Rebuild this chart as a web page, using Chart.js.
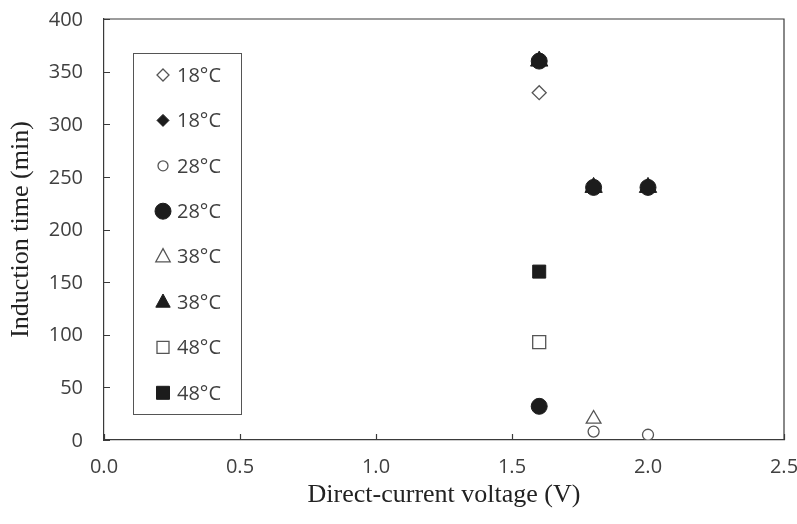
<!DOCTYPE html>
<html>
<head>
<meta charset="utf-8">
<style>
  html, body { margin: 0; padding: 0; background: #fff; }
</style>
<script src="https://cdn.jsdelivr.net/npm/chart.js@4.4.1/dist/chart.umd.min.js"></script>
</head>
<body>
<canvas id="chart" width="797" height="524"></canvas>
<script>
// values: voltage (V) vs induction time (min)
const legendLabels = ['18°C', '18°C', '28°C', '28°C', '38°C', '38°C', '48°C', '48°C'];
const open18 = [{ x: 1.6, y: 330 }];
const filled18 = [{ x: 1.6, y: 360 }, { x: 1.8, y: 240 }, { x: 2.0, y: 240 }];
const open28 = [{ x: 1.8, y: 8 }, { x: 2.0, y: 5 }];
const filled28 = [{ x: 1.6, y: 360 }, { x: 1.8, y: 240 }, { x: 2.0, y: 240 }, { x: 1.6, y: 32 }];
const open38 = [{ x: 1.8, y: 20 }];
const filled38 = [{ x: 1.6, y: 360 }, { x: 1.8, y: 240 }, { x: 2.0, y: 240 }];
const open48 = [{ x: 1.6, y: 93 }];
const filled48 = [{ x: 1.6, y: 160 }];
const xTicks = [0, 0.5, 1.0, 1.5, 2.0, 2.5];
const yTicks = [0, 50, 100, 150, 200, 250, 300, 350, 400];

const ink = '#1c1c1c';
const hollow = '#555';
const axisColor = '#3a3a3a';
const textColor = '#404040';
const sans = '"Open Sans", "Noto Sans", sans-serif';
const serif = '"Liberation Serif", "DejaVu Serif", serif';

function series(data, style, radius, filled, order) {
  return {
    data,
    pointStyle: style,
    pointRadius: radius,
    pointBackgroundColor: filled ? ink : '#fff',
    pointBorderColor: filled ? ink : hollow,
    pointBorderWidth: filled ? 1 : 1.3,
    showLine: false,
    order
  };
}

// legend box inside the plot, markers drawn by hand
const legendBox = {
  id: 'legendBox',
  afterDraw(chart) {
    const { ctx } = chart;
    const sizes = [6, 6, 5, 8, 8, 8, 6, 6.5];
    ctx.save();
    ctx.strokeStyle = '#555';
    ctx.lineWidth = 1;
    ctx.strokeRect(133.5, 53.5, 108, 361);
    chart.data.datasets.forEach((ds, i) => {
      const cx = 163;
      const cy = 75 + i * 45.4;
      const r = sizes[i];
      ctx.fillStyle = ds.pointBackgroundColor;
      ctx.strokeStyle = ds.pointBorderColor;
      ctx.lineWidth = ds.pointBorderWidth;
      ctx.beginPath();
      if (ds.pointStyle === 'circle') {
        ctx.arc(cx, cy, r, 0, Math.PI * 2);
      } else if (ds.pointStyle === 'rectRot') {
        ctx.moveTo(cx, cy - r); ctx.lineTo(cx + r, cy); ctx.lineTo(cx, cy + r); ctx.lineTo(cx - r, cy);
        ctx.closePath();
      } else if (ds.pointStyle === 'triangle') {
        ctx.moveTo(cx, cy - r); ctx.lineTo(cx + r * 0.9, cy + r * 0.65); ctx.lineTo(cx - r * 0.9, cy + r * 0.65);
        ctx.closePath();
      } else {
        ctx.rect(cx - r, cy - r, 2 * r, 2 * r);
      }
      ctx.fill();
      ctx.stroke();
      ctx.fillStyle = textColor;
      ctx.font = '20px ' + sans;
      ctx.textBaseline = 'middle';
      ctx.textAlign = 'left';
      ctx.fillText(legendLabels[i], 177, cy + 1);
    });
    ctx.restore();
  }
};

// inward tick marks, tick labels and top/right frame
const frame = {
  id: 'frame',
  beforeDatasetsDraw(chart) {
    const { ctx, chartArea: a, scales } = chart;
    ctx.save();
    ctx.strokeStyle = axisColor;
    ctx.lineWidth = 1.2;
    ctx.beginPath();
    ctx.moveTo(a.left, a.top); ctx.lineTo(a.right, a.top); ctx.lineTo(a.right, a.bottom);
    yTicks.forEach(v => {
      const y = Math.round(scales.y.getPixelForValue(v)) + 0.5;
      ctx.moveTo(a.left, y); ctx.lineTo(a.left + 6, y);
    });
    xTicks.forEach(v => {
      const x = Math.round(scales.x.getPixelForValue(v)) + 0.5;
      ctx.moveTo(x, a.bottom); ctx.lineTo(x, a.bottom - 6);
    });
    ctx.stroke();

    ctx.fillStyle = textColor;
    ctx.font = '20px ' + sans;
    ctx.textBaseline = 'middle';
    ctx.textAlign = 'right';
    yTicks.forEach(v => {
      ctx.fillText(String(v), a.left - 21, scales.y.getPixelForValue(v) + 1);
    });
    ctx.textAlign = 'center';
    xTicks.forEach(v => {
      ctx.fillText(v.toFixed(1), scales.x.getPixelForValue(v), a.bottom + 27);
    });
    ctx.restore();
  }
};

new Chart(document.getElementById('chart'), {
  type: 'scatter',
  data: {
    datasets: [
      series(open18, 'rectRot', 7, false, 1),
      series(filled18, 'rectRot', 7, true, 4),
      series(open28, 'circle', 5.5, false, 1),
      series(filled28, 'circle', 8, true, 0),
      series(open38, 'triangle', 8.5, false, 1),
      series(filled38, 'triangle', 10, true, 3),
      series(open48, 'rect', 9.2, false, 1),
      series(filled48, 'rect', 9.2, true, 1)
    ]
  },
  options: {
    responsive: false,
    animation: false,
    devicePixelRatio: 1,
    layout: { padding: { top: 19, right: 13, left: 0, bottom: 0 } },
    plugins: { legend: { display: false }, tooltip: { enabled: false } },
    scales: {
      x: {
        type: 'linear',
        min: 0,
        max: 2.5,
        ticks: { display: false },
        grid: { display: false, drawTicks: false },
        border: { display: true, color: axisColor, width: 1.2 },
        title: {
          display: true,
          text: 'Direct-current voltage (V)',
          color: '#222',
          font: { family: serif, size: 26 },
          padding: { top: 13, bottom: 13 }
        },
        afterFit: s => { s.height = 84; s.paddingLeft = 0; s.paddingRight = 0; }
      },
      y: {
        min: 0,
        max: 400,
        ticks: { display: false },
        grid: { display: false, drawTicks: false },
        border: { display: true, color: axisColor, width: 1.2 },
        title: {
          display: true,
          text: 'Induction time (min)',
          color: '#222',
          font: { family: serif, size: 26 },
          padding: { top: 6, bottom: 6 }
        },
        afterFit: s => { s.width = 104; s.paddingTop = 0; s.paddingBottom = 0; }
      }
    }
  },
  plugins: [frame, legendBox]
});
</script>
</body>
</html>
